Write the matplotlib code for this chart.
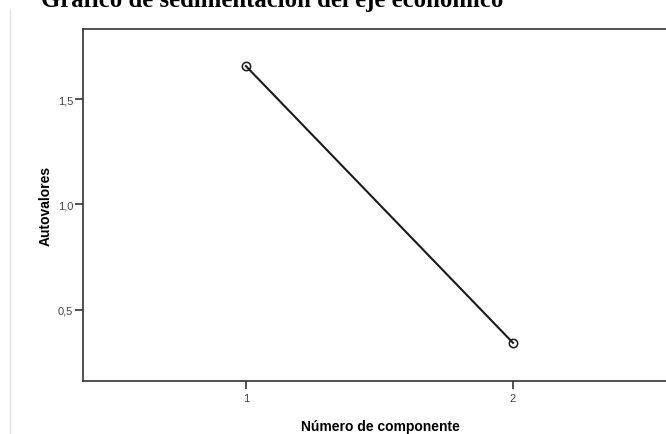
import matplotlib
matplotlib.use("Agg")
import matplotlib.pyplot as plt
from matplotlib.lines import Line2D

# scree plot data
componentes = [1, 2]
autovalores = [1.657, 0.343]
yticks = [0.5, 1.0, 1.5]
ytick_labels = ["0,5", "1,0", "1,5"]
xtick_labels = ["1", "2"]

W, H = 666, 435
fig = plt.figure(figsize=(W / 100, H / 100), dpi=100)
fig.patch.set_facecolor("white")

# axes spans past the right edge of the image (cropped original)
left, right, top, bottom = 83, 677, 30, 382
ax = fig.add_axes([left / W, (H - bottom) / H, (right - left) / W, (bottom - top) / H])

ax.plot(componentes, autovalores, color="#1a1a1a", lw=1.5,
        marker="o", markersize=6, markerfacecolor="none",
        markeredgecolor="#1a1a1a", markeredgewidth=1.1)

ax.set_xlim(0.39, 2.614)
ax.set_ylim(0.162, 1.833)
ax.set_xticks(componentes)
ax.set_xticklabels(xtick_labels)
ax.set_yticks(yticks)
ax.set_yticklabels(ytick_labels)

for side in ["left", "bottom", "top"]:
    ax.spines[side].set_color("#333333")
    ax.spines[side].set_linewidth(1.2)
ax.spines["right"].set_visible(False)

ax.tick_params(direction="out", length=6, width=1.2, color="#333333",
               labelsize=8, labelcolor="#444444",
               labelfontfamily="Liberation Sans")
ax.tick_params(axis="y", pad=1)
ax.tick_params(axis="x", pad=3)

ax.set_xlabel("Número de componente", fontsize=10, fontweight="bold",
              family="Liberation Sans", labelpad=11)
ax.set_ylabel("Autovalores", fontsize=10, fontweight="bold",
              family="Liberation Sans", labelpad=4)

# title cut off at the top of the image
fig.text(272 / W, 1 - 7 / H, "Gráfico de sedimentación del eje económico",
         ha="center", va="baseline", fontsize=17.8, fontweight="bold",
         family="Liberation Serif")

# faint frame line on the left
fig.add_artist(Line2D([10 / W, 10 / W], [0, 1 - 10 / H],
                      transform=fig.transFigure, color="#e4e4e4", lw=1))

fig.savefig("out.png", dpi=100)
